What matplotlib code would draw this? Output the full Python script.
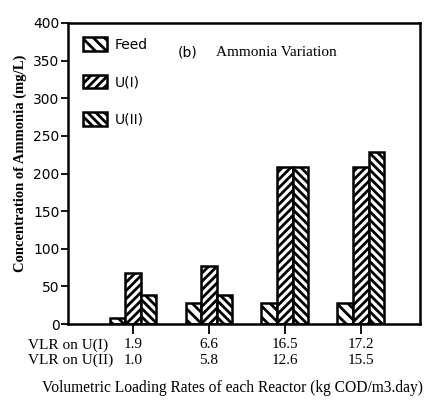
import matplotlib
matplotlib.use("Agg")
import matplotlib.pyplot as plt
import numpy as np

# data
vlr_u1 = ["1.9", "6.6", "16.5", "17.2"]
vlr_u2 = ["1.0", "5.8", "12.6", "15.5"]
feed = [8, 28, 28, 28]
u_one = [68, 77, 208, 208]
u_two = [39, 39, 208, 228]
series_names = ["Feed", "U(I)", "U(II)"]
y_ticks = [0, 50, 100, 150, 200, 250, 300, 350, 400]

SANS = "DejaVu Sans"
SERIF = "Liberation Serif"

plt.rcParams["hatch.linewidth"] = 2.0
plt.rcParams["hatch.color"] = "black"

fig = plt.figure(figsize=(4.26, 4.01), dpi=100)
W, H = 426, 401
ax = fig.add_axes([68 / W, 1 - 324 / H, (420 - 68) / W, (324 - 23) / H])

x = np.arange(len(feed))
w = 0.205
ax.bar(x - w, feed, w, facecolor="white", edgecolor="black", linewidth=1.8,
       hatch="\\\\\\", label=series_names[0])
ax.bar(x, u_one, w, facecolor="white", edgecolor="black", linewidth=1.8,
       hatch="////", label=series_names[1])
ax.bar(x + w, u_two, w, facecolor="white", edgecolor="black", linewidth=1.8,
       hatch="\\\\\\\\", label=series_names[2])

ax.set_xlim(-0.855, 3.78)
ax.set_ylim(0, 400)
ax.set_yticks(y_ticks)
ax.set_yticklabels([str(t) for t in y_ticks], family=SANS, fontsize=10)
ax.set_xticks(x)
ax.set_xticklabels([])
ax.tick_params(axis="y", direction="out", length=5, width=1.3, pad=1)
ax.tick_params(axis="x", direction="out", length=7, width=1.3)
for s in ax.spines.values():
    s.set_linewidth(1.8)

# two rows of VLR values under the ticks
row1, row2 = 345, 360
trans = ax.get_xaxis_transform()
for xi, a, b in zip(x, vlr_u1, vlr_u2):
    ax.text(xi, -(row1 - 324) / 301, a, transform=trans, ha="center", va="center",
            family=SERIF, fontsize=11)
    ax.text(xi, -(row2 - 324) / 301, b, transform=trans, ha="center", va="center",
            family=SERIF, fontsize=11)
fig.text(28 / W, 1 - row1 / H, "VLR on U(I)", ha="left", va="center",
         family=SERIF, fontsize=11)
fig.text(28 / W, 1 - row2 / H, "VLR on U(II)", ha="left", va="center",
         family=SERIF, fontsize=11)

fig.text(232 / W, 1 - 388 / H,
         "Volumetric Loading Rates of each Reactor (kg COD/m3.day)",
         ha="center", va="center", family=SERIF, fontsize=11.2)
fig.text(20 / W, 1 - 163 / H, "Concentration of Ammonia (mg/L)", rotation=90,
         ha="center", va="center", family=SERIF, fontsize=10.5, weight="bold")

ax.text(178 / W, 1 - 52 / H, "(b)", transform=fig.transFigure, ha="left",
        va="center", family=SANS, fontsize=10)
ax.text(216 / W, 1 - 52 / H, "Ammonia Variation", transform=fig.transFigure,
        ha="left", va="center", family=SERIF, fontsize=11)

leg = ax.legend(loc="upper left", bbox_to_anchor=((83 - 68) / 352, 1 - (37 - 23) / 301),
                frameon=False, borderpad=0, borderaxespad=0, handlelength=1.7,
                handleheight=1.15, labelspacing=1.65, handletextpad=0.55,
                prop={"family": SANS, "size": 10})

fig.savefig("out.png", dpi=100)
